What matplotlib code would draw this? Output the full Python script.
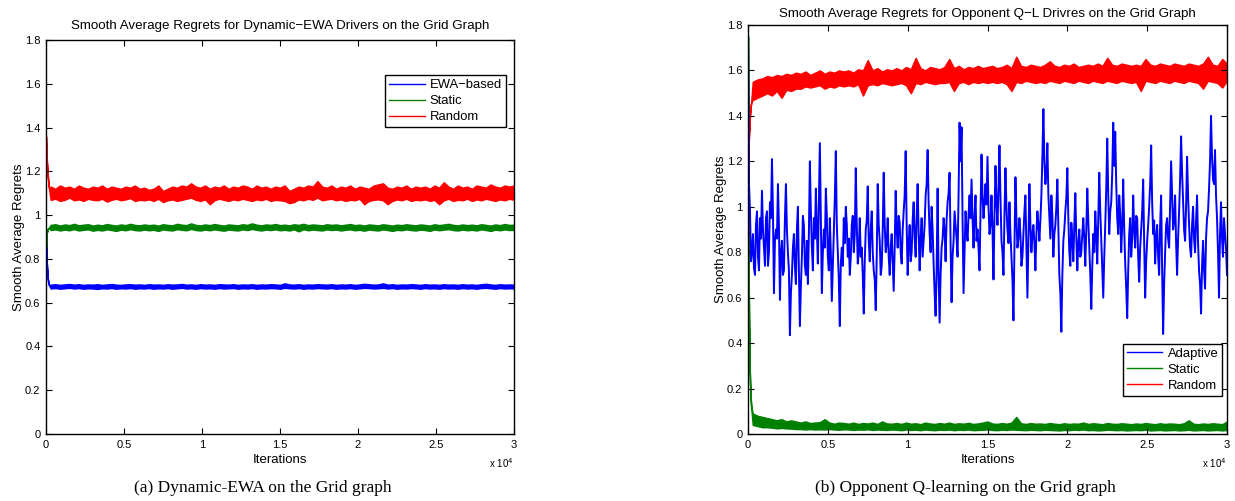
import numpy as np
import matplotlib
matplotlib.use('Agg')
import matplotlib.pyplot as plt
from matplotlib.lines import Line2D

plt.rcParams['font.family'] = ['Liberation Sans', 'DejaVu Sans']

# iterations: a few early points, then every 300 iterations
head_x = [0, 25, 50, 100, 150, 200]
grid_x = list(range(300, 30001, 300))
iters = np.array(head_x + grid_x)

# adaptive series (b) is read every 62.5 iterations
adaptive_x = np.linspace(0, 30000, 481)

x_ticks = [0, 5000, 10000, 15000, 20000, 25000, 30000]
x_tick_labels = ['0', '0.5', '1', '1.5', '2', '2.5', '3']
y_ticks = [0, 0.2, 0.4, 0.6, 0.8, 1.0, 1.2, 1.4, 1.6, 1.8]
y_tick_labels = ['0', '0.2', '0.4', '0.6', '0.8', '1', '1.2', '1.4', '1.6', '1.8']

# ---- (a) Dynamic-EWA drivers: band (low / high) of each smoothed series ----
ewa_head = [0.93, 0.84, 0.78, 0.72, 0.69, 0.68]
ewa_hi = [0.682, 0.684, 0.681, 0.683, 0.685, 0.682, 0.684, 0.681, 0.683, 0.682,
          0.684, 0.681, 0.683, 0.685, 0.682, 0.681, 0.683, 0.684, 0.682, 0.683,
          0.681, 0.684, 0.682, 0.683, 0.681, 0.684, 0.682, 0.683, 0.685, 0.682,
          0.683, 0.681, 0.684, 0.682, 0.683, 0.681, 0.684, 0.683, 0.682, 0.684,
          0.681, 0.683, 0.682, 0.684, 0.681, 0.683, 0.682, 0.684, 0.683, 0.681,
          0.688, 0.683, 0.682, 0.684, 0.681, 0.683, 0.682, 0.684, 0.683, 0.682,
          0.684, 0.681, 0.683, 0.682, 0.684, 0.681, 0.683, 0.686, 0.684, 0.682,
          0.683, 0.688, 0.682, 0.684, 0.681, 0.683, 0.682, 0.684, 0.683, 0.681,
          0.684, 0.682, 0.683, 0.681, 0.684, 0.682, 0.683, 0.681, 0.684, 0.682,
          0.683, 0.681, 0.684, 0.686, 0.683, 0.681, 0.684, 0.682, 0.683, 0.682]
ewa_lo = [0.665, 0.667, 0.664, 0.666, 0.668, 0.665, 0.667, 0.664, 0.666, 0.665,
          0.663, 0.666, 0.665, 0.667, 0.664, 0.666, 0.665, 0.667, 0.664, 0.666,
          0.665, 0.667, 0.664, 0.666, 0.665, 0.667, 0.664, 0.666, 0.668, 0.665,
          0.666, 0.664, 0.667, 0.665, 0.666, 0.664, 0.667, 0.665, 0.666, 0.667,
          0.664, 0.666, 0.665, 0.667, 0.664, 0.666, 0.665, 0.667, 0.666, 0.664,
          0.668, 0.666, 0.665, 0.667, 0.664, 0.666, 0.665, 0.667, 0.666, 0.665,
          0.667, 0.664, 0.666, 0.665, 0.667, 0.664, 0.666, 0.668, 0.667, 0.665,
          0.666, 0.668, 0.665, 0.667, 0.664, 0.666, 0.665, 0.667, 0.666, 0.664,
          0.667, 0.665, 0.666, 0.664, 0.667, 0.665, 0.666, 0.664, 0.667, 0.665,
          0.666, 0.664, 0.667, 0.668, 0.666, 0.664, 0.667, 0.665, 0.666, 0.665]

static_a_head = [0.85, 0.89, 0.92, 0.935, 0.94, 0.943]
static_a_hi = [0.955, 0.958, 0.952, 0.957, 0.954, 0.96, 0.953, 0.956, 0.958, 0.952,
               0.956, 0.953, 0.959, 0.955, 0.952, 0.957, 0.954, 0.96, 0.955, 0.953,
               0.957, 0.954, 0.956, 0.952, 0.958, 0.955, 0.953, 0.96, 0.956, 0.954,
               0.962, 0.955, 0.953, 0.957, 0.954, 0.959, 0.955, 0.952, 0.957, 0.955,
               0.953, 0.958, 0.955, 0.962, 0.956, 0.953, 0.957, 0.955, 0.959, 0.954,
               0.956, 0.953, 0.958, 0.955, 0.96, 0.954, 0.957, 0.955, 0.953, 0.958,
               0.955, 0.957, 0.953, 0.956, 0.959, 0.954, 0.956, 0.952, 0.957, 0.955,
               0.953, 0.958, 0.955, 0.952, 0.956, 0.954, 0.958, 0.955, 0.953, 0.957,
               0.955, 0.952, 0.958, 0.954, 0.957, 0.96, 0.955, 0.953, 0.957, 0.954,
               0.956, 0.953, 0.958, 0.955, 0.952, 0.957, 0.954, 0.959, 0.955, 0.956]
static_a_lo = [0.932, 0.935, 0.93, 0.934, 0.931, 0.936, 0.93, 0.933, 0.935, 0.929,
               0.933, 0.93, 0.935, 0.932, 0.928, 0.934, 0.931, 0.936, 0.932, 0.93,
               0.934, 0.931, 0.933, 0.928, 0.935, 0.932, 0.93, 0.936, 0.933, 0.931,
               0.937, 0.932, 0.93, 0.934, 0.931, 0.935, 0.932, 0.929, 0.934, 0.932,
               0.93, 0.935, 0.932, 0.937, 0.933, 0.93, 0.934, 0.932, 0.935, 0.931,
               0.933, 0.93, 0.935, 0.926, 0.936, 0.931, 0.934, 0.932, 0.93, 0.935,
               0.932, 0.934, 0.93, 0.933, 0.935, 0.931, 0.933, 0.929, 0.934, 0.932,
               0.93, 0.935, 0.932, 0.928, 0.933, 0.931, 0.935, 0.932, 0.93, 0.934,
               0.932, 0.928, 0.935, 0.931, 0.934, 0.936, 0.932, 0.93, 0.934, 0.931,
               0.933, 0.93, 0.935, 0.932, 0.928, 0.934, 0.931, 0.935, 0.932, 0.933]

random_a_head = [1.36, 1.30, 1.25, 1.19, 1.15, 1.12]
random_a_hi = [1.13, 1.12, 1.135, 1.125, 1.13, 1.12, 1.135, 1.125, 1.12, 1.13,
               1.125, 1.135, 1.12, 1.13, 1.125, 1.12, 1.13, 1.125, 1.135, 1.12,
               1.125, 1.115, 1.12, 1.135, 1.11, 1.12, 1.13, 1.125, 1.135, 1.13,
               1.145, 1.13, 1.125, 1.135, 1.12, 1.13, 1.125, 1.135, 1.12, 1.13,
               1.125, 1.135, 1.13, 1.12, 1.135, 1.125, 1.13, 1.12, 1.13, 1.125,
               1.135, 1.11, 1.12, 1.13, 1.125, 1.135, 1.13, 1.155, 1.13, 1.125,
               1.135, 1.12, 1.13, 1.125, 1.135, 1.12, 1.13, 1.125, 1.12, 1.135,
               1.14, 1.145, 1.125, 1.12, 1.13, 1.125, 1.135, 1.12, 1.13, 1.125,
               1.13, 1.12, 1.135, 1.125, 1.15, 1.13, 1.12, 1.135, 1.125, 1.13,
               1.12, 1.135, 1.13, 1.125, 1.14, 1.13, 1.125, 1.135, 1.13, 1.135]
random_a_lo = [1.07, 1.075, 1.065, 1.07, 1.08, 1.068, 1.072, 1.065, 1.075, 1.07,
               1.068, 1.075, 1.062, 1.07, 1.075, 1.068, 1.072, 1.078, 1.065, 1.07,
               1.068, 1.072, 1.065, 1.075, 1.06, 1.068, 1.072, 1.065, 1.07, 1.075,
               1.08, 1.07, 1.065, 1.072, 1.05, 1.068, 1.075, 1.07, 1.065, 1.072,
               1.068, 1.075, 1.07, 1.065, 1.072, 1.068, 1.075, 1.065, 1.07, 1.068,
               1.065, 1.055, 1.06, 1.072, 1.068, 1.075, 1.07, 1.08, 1.068, 1.072,
               1.075, 1.068, 1.072, 1.065, 1.07, 1.068, 1.075, 1.05, 1.065, 1.07,
               1.072, 1.068, 1.05, 1.065, 1.072, 1.068, 1.075, 1.065, 1.07, 1.068,
               1.072, 1.065, 1.07, 1.05, 1.068, 1.075, 1.065, 1.07, 1.068, 1.075,
               1.065, 1.072, 1.068, 1.075, 1.07, 1.065, 1.072, 1.068, 1.075, 1.07]

# ---- (b) Opponent Q-learning drivers ----
# one row per 1000 iterations
adaptive = [1.78, 1.10, 0.98, 0.76, 0.80, 0.88, 0.73, 0.70, 0.92, 0.98, 0.78, 0.72, 0.95, 0.86, 1.07, 0.90,
            0.82, 0.74, 0.95, 0.98, 0.74, 0.80, 1.02, 0.95, 1.21, 0.98, 0.62, 0.85, 0.90, 0.86, 1.10, 0.92,
            0.59, 0.80, 0.85, 0.70, 0.72, 0.95, 1.10, 0.90, 0.80, 0.72, 0.435, 0.62, 0.70, 0.82, 0.88, 0.74,
            0.66, 0.90, 1.00, 0.72, 0.475, 0.65, 0.78, 0.96, 0.92, 0.74, 0.70, 0.85, 0.66, 0.88, 1.20, 0.98,
            0.82, 0.72, 0.95, 0.86, 1.08, 0.90, 0.75, 1.02, 1.28, 0.95, 0.62, 0.80, 0.90, 0.82, 1.08, 0.96,
            0.78, 0.72, 0.95, 0.80, 0.585, 0.74, 0.88, 1.04, 1.245, 0.92, 0.80, 0.68, 0.475, 0.75, 0.82, 0.74,
            0.95, 0.84, 1.00, 0.92, 0.78, 0.86, 0.70, 0.78, 0.92, 0.96, 0.80, 0.88, 1.17, 0.92, 0.75, 0.80,
            0.95, 0.78, 0.82, 0.70, 0.53, 0.76, 0.90, 0.94, 1.09, 0.85, 0.76, 0.90, 0.98, 0.80, 0.72, 0.68,
            0.545, 0.78, 1.10, 0.92, 0.85, 0.70, 0.74, 0.90, 1.15, 0.92, 0.80, 0.84, 0.95, 0.78, 0.70, 0.82,
            0.88, 0.76, 0.63, 0.82, 1.07, 0.90, 0.82, 0.96, 0.93, 0.80, 0.75, 0.90, 0.98, 1.05, 1.245, 0.92,
            0.70, 0.84, 0.92, 0.76, 0.80, 0.94, 1.02, 0.86, 0.78, 0.96, 1.10, 0.88, 0.72, 0.86, 0.95, 0.78,
            0.85, 0.92, 1.05, 1.10, 1.25, 1.02, 0.88, 0.80, 1.00, 0.90, 0.75, 0.62, 0.52, 0.72, 1.08, 0.70,
            0.49, 0.70, 0.82, 0.86, 0.95, 0.90, 0.76, 0.94, 1.02, 1.06, 1.15, 0.84, 0.58, 0.78, 0.85, 0.98,
            0.92, 0.86, 0.78, 1.05, 1.37, 1.20, 1.35, 0.95, 0.62, 0.80, 0.98, 0.90, 0.85, 0.96, 1.05, 0.95,
            1.12, 0.95, 0.82, 0.96, 1.05, 0.85, 0.90, 0.82, 0.72, 0.98, 1.23, 1.05, 0.95, 1.02, 1.10, 1.01,
            1.22, 1.00, 0.88, 0.92, 1.05, 0.90, 0.68, 0.96, 1.18, 1.02, 0.92, 1.08, 1.27, 1.04, 0.85, 0.80,
            0.70, 0.96, 1.17, 1.00, 0.90, 0.84, 1.02, 0.88, 0.78, 0.68, 0.50, 0.82, 1.13, 0.95, 0.82, 0.86,
            0.95, 0.88, 0.74, 0.78, 0.88, 0.98, 1.05, 0.82, 0.60, 0.86, 1.10, 0.92, 0.80, 0.88, 0.92, 0.84,
            0.72, 0.88, 0.98, 0.92, 0.85, 0.94, 1.05, 1.22, 1.43, 1.20, 1.10, 1.15, 1.28, 1.05, 0.95, 0.86,
            1.05, 0.96, 0.78, 0.88, 0.92, 1.00, 1.12, 0.92, 0.70, 0.62, 0.45, 0.70, 0.85, 0.90, 0.98, 1.04,
            1.17, 0.95, 0.80, 0.74, 0.93, 0.86, 0.76, 0.92, 1.06, 0.86, 0.72, 0.84, 0.90, 0.78, 0.80, 0.88,
            0.95, 0.86, 0.74, 0.90, 1.08, 0.94, 0.82, 0.70, 0.55, 0.74, 0.88, 0.80, 0.98, 0.88, 0.75, 0.96,
            1.15, 0.98, 0.85, 0.72, 0.60, 0.78, 0.92, 1.08, 1.30, 1.05, 0.88, 0.98, 1.02, 1.15, 1.37, 1.18,
            1.33, 1.10, 0.95, 0.88, 1.05, 0.96, 0.80, 0.92, 1.12, 0.90, 0.75, 0.64, 0.51, 0.72, 0.88, 0.95,
            0.78, 0.86, 1.05, 0.90, 0.82, 0.96, 0.95, 0.78, 0.67, 0.82, 0.90, 0.98, 1.12, 0.84, 0.60, 0.76,
            0.85, 0.92, 1.00, 1.10, 1.27, 1.02, 0.88, 0.94, 0.75, 0.86, 0.92, 0.78, 0.70, 0.92, 1.05, 0.72,
            0.44, 0.66, 0.80, 0.92, 0.95, 0.86, 0.82, 1.02, 1.20, 1.05, 0.90, 0.94, 1.05, 0.84, 0.70, 0.86,
            0.98, 1.12, 1.31, 1.15, 1.02, 0.90, 0.85, 1.00, 1.22, 1.05, 0.92, 0.82, 0.78, 0.92, 1.00, 0.86,
            0.80, 0.94, 1.05, 0.84, 0.72, 0.66, 0.53, 0.74, 0.85, 0.72, 0.64, 0.86, 0.95, 0.98, 1.08, 1.20,
            1.40, 1.22, 1.12, 1.10, 1.25, 1.05, 0.95, 0.80, 0.60, 0.88, 1.02, 0.86, 0.78, 0.95, 0.88, 0.82,
            0.70]

static_b_head = [1.75, 1.05, 0.60, 0.30, 0.18, 0.12]
static_b_hi = [0.09, 0.08, 0.075, 0.07, 0.065, 0.06, 0.065, 0.055, 0.06, 0.055,
               0.05, 0.055, 0.048, 0.05, 0.052, 0.065, 0.05, 0.045, 0.05, 0.048,
               0.045, 0.05, 0.044, 0.048, 0.046, 0.05, 0.044, 0.055, 0.046, 0.045,
               0.048, 0.044, 0.05, 0.045, 0.047, 0.043, 0.05, 0.046, 0.044, 0.048,
               0.045, 0.05, 0.044, 0.047, 0.045, 0.049, 0.044, 0.046, 0.05, 0.055,
               0.046, 0.044, 0.048, 0.045, 0.05, 0.075, 0.047, 0.044, 0.048, 0.045,
               0.046, 0.044, 0.048, 0.045, 0.043, 0.047, 0.044, 0.046, 0.045, 0.05,
               0.044, 0.047, 0.045, 0.043, 0.048, 0.045, 0.044, 0.047, 0.045, 0.043,
               0.046, 0.044, 0.048, 0.045, 0.043, 0.047, 0.044, 0.046, 0.045, 0.043,
               0.047, 0.06, 0.045, 0.043, 0.046, 0.044, 0.047, 0.045, 0.043, 0.055]
static_b_lo = [0.04, 0.035, 0.03, 0.03, 0.028, 0.025, 0.027, 0.025, 0.024, 0.022,
               0.022, 0.02, 0.022, 0.02, 0.021, 0.02, 0.022, 0.02, 0.019, 0.021,
               0.02, 0.018, 0.02, 0.019, 0.021, 0.018, 0.02, 0.019, 0.018, 0.02,
               0.019, 0.017, 0.02, 0.018, 0.019, 0.017, 0.02, 0.018, 0.017, 0.019,
               0.018, 0.02, 0.017, 0.019, 0.018, 0.02, 0.017, 0.018, 0.019, 0.02,
               0.018, 0.017, 0.019, 0.018, 0.02, 0.019, 0.018, 0.017, 0.019, 0.018,
               0.017, 0.019, 0.018, 0.017, 0.016, 0.018, 0.017, 0.019, 0.018, 0.02,
               0.017, 0.018, 0.016, 0.017, 0.019, 0.018, 0.017, 0.018, 0.016, 0.017,
               0.018, 0.017, 0.019, 0.016, 0.017, 0.018, 0.016, 0.017, 0.018, 0.016,
               0.017, 0.019, 0.016, 0.017, 0.018, 0.016, 0.017, 0.018, 0.016, 0.018]

random_b_head = [0.88, 1.15, 1.30, 1.38, 1.43, 1.46]
random_b_hi = [1.55, 1.56, 1.565, 1.575, 1.57, 1.58, 1.575, 1.585, 1.58, 1.59,
               1.585, 1.595, 1.58, 1.59, 1.6, 1.585, 1.595, 1.59, 1.6, 1.595,
               1.6, 1.59, 1.605, 1.6, 1.645, 1.6, 1.61, 1.595, 1.605, 1.6,
               1.61, 1.6, 1.615, 1.605, 1.655, 1.61, 1.6, 1.615, 1.61, 1.605,
               1.615, 1.65, 1.61, 1.62, 1.605, 1.615, 1.61, 1.62, 1.61, 1.615,
               1.62, 1.61, 1.615, 1.625, 1.61, 1.66, 1.62, 1.615, 1.625, 1.62,
               1.615, 1.625, 1.64, 1.62, 1.615, 1.625, 1.62, 1.63, 1.615, 1.62,
               1.625, 1.62, 1.63, 1.62, 1.655, 1.625, 1.62, 1.63, 1.625, 1.62,
               1.625, 1.62, 1.65, 1.625, 1.62, 1.63, 1.625, 1.62, 1.63, 1.625,
               1.62, 1.63, 1.625, 1.62, 1.63, 1.66, 1.625, 1.62, 1.65, 1.63]
random_b_lo = [1.47, 1.48, 1.49, 1.50, 1.49, 1.51, 1.48, 1.515, 1.51, 1.52,
               1.52, 1.53, 1.525, 1.53, 1.535, 1.52, 1.53, 1.525, 1.535, 1.53,
               1.535, 1.53, 1.54, 1.49, 1.535, 1.54, 1.535, 1.545, 1.54, 1.535,
               1.54, 1.545, 1.535, 1.50, 1.545, 1.54, 1.55, 1.545, 1.54, 1.545,
               1.545, 1.55, 1.51, 1.545, 1.55, 1.54, 1.55, 1.545, 1.55, 1.545,
               1.55, 1.545, 1.55, 1.54, 1.51, 1.55, 1.545, 1.555, 1.55, 1.545,
               1.55, 1.545, 1.555, 1.55, 1.545, 1.555, 1.55, 1.545, 1.555, 1.55,
               1.545, 1.555, 1.55, 1.545, 1.555, 1.55, 1.545, 1.555, 1.55, 1.545,
               1.55, 1.51, 1.555, 1.55, 1.545, 1.555, 1.55, 1.545, 1.555, 1.55,
               1.545, 1.555, 1.55, 1.545, 1.52, 1.555, 1.55, 1.545, 1.525, 1.555]

BLUE = (0, 0, 1)
GREEN = (0, 0.5, 0)
RED = (1, 0, 0)


def band(ax, head, lo, hi, color):
    ax.fill_between(iters, head + lo, head + hi, facecolor=color,
                    edgecolor=color, linewidth=1.1)


def style(ax):
    ax.set_xlim(0, 30000)
    ax.set_ylim(0, 1.8)
    ax.set_xticks(x_ticks)
    ax.set_xticklabels(x_tick_labels)
    ax.set_yticks(y_ticks)
    ax.set_yticklabels(y_tick_labels)
    ax.tick_params(direction='in', top=True, right=True, length=4, width=0.8,
                   labelsize=8, pad=4)
    for s in ax.spines.values():
        s.set_linewidth(1.0)
    ax.set_xlabel('Iterations', fontsize=9.5, labelpad=3)
    ax.set_ylabel('Smooth Average Regrets', fontsize=9.5, labelpad=0)


def legend(ax, labels, loc, anchor):
    handles = [Line2D([], [], color=c, lw=1) for c in (BLUE, GREEN, RED)]
    leg = ax.legend(handles, labels, loc=loc, bbox_to_anchor=anchor,
                    fontsize=9.4, fancybox=False, framealpha=1,
                    edgecolor='black', handlelength=2.7, borderpad=0.3,
                    labelspacing=0.3, handletextpad=0.4, borderaxespad=0)
    leg.get_frame().set_linewidth(1.0)


fig = plt.figure(figsize=(12.35, 5.01), dpi=100)

# (a)
ax1 = fig.add_axes([46 / 1235, 67 / 501, 468 / 1235, 394 / 501])
band(ax1, ewa_head, ewa_lo, ewa_hi, BLUE)
band(ax1, static_a_head, static_a_lo, static_a_hi, GREEN)
band(ax1, random_a_head, random_a_lo, random_a_hi, RED)
style(ax1)
ax1.set_title('Smooth Average Regrets for Dynamic\u2212EWA Drivers on the Grid Graph',
              fontsize=9.6, pad=8)
legend(ax1, ['EWA\u2212based', 'Static', 'Random'], 'upper right', (0.983, 0.911))
fig.text(514 / 1235, 1 - 463 / 501, 'x 10$^4$', fontsize=7, ha='right', va='center')

# (b)
ax2 = fig.add_axes([748 / 1235, 67 / 501, 479 / 1235, 409 / 501])
ax2.plot(adaptive_x, adaptive, color=BLUE, lw=1.4)
band(ax2, static_b_head, static_b_lo, static_b_hi, GREEN)
band(ax2, random_b_head, random_b_lo, random_b_hi, RED)
style(ax2)
ax2.set_title('Smooth Average Regrets for Opponent Q\u2212L Drivres on the Grid Graph',
              fontsize=9.6, pad=6)
legend(ax2, ['Adaptive', 'Static', 'Random'], 'lower right', (0.99, 0.093))
fig.text(1227 / 1235, 1 - 463 / 501, 'x 10$^4$', fontsize=7, ha='right', va='center')

# captions
fig.text(263 / 1235, 1 - 488 / 501, '(a) Dynamic-EWA on the Grid graph',
         fontsize=12.5, family='Liberation Serif', ha='center', va='center')
fig.text(965 / 1235, 1 - 488 / 501, '(b) Opponent Q-learning on the Grid graph',
         fontsize=12.5, family='Liberation Serif', ha='center', va='center')

fig.savefig('out.png', dpi=100)
